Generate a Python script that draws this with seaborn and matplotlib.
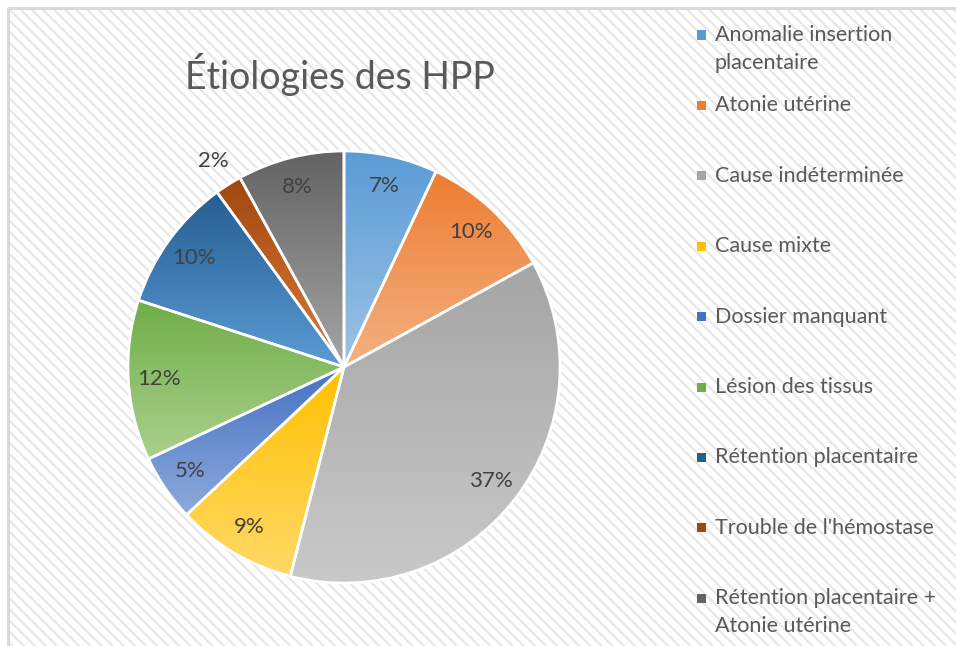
import numpy as np
import matplotlib.pyplot as plt
import seaborn as sns
from matplotlib.colors import LinearSegmentedColormap
from matplotlib.patches import Rectangle

# Données
categories = ["Anomalie insertion\nplacentaire", "Atonie utérine", "Cause indéterminée",
              "Cause mixte", "Dossier manquant", "Lésion des tissus",
              "Rétention placentaire", "Trouble de l'hémostase",
              "Rétention placentaire +\nAtonie utérine"]
values = [7, 10, 37, 9, 5, 12, 10, 2, 8]

# Couleurs (dégradé haut -> bas)
top_colors = ["#5B9BD5", "#ED7D31", "#A5A5A5", "#FFC000", "#4472C4",
              "#70AD47", "#255E91", "#9E480E", "#636363"]
bottom_colors = ["#9DC3E6", "#F4B183", "#C9C9C9", "#FFD966", "#8FAADC",
                 "#A9D18E", "#5B9BD5", "#E07B39", "#A5A5A5"]

sns.set_theme(style="white")
plt.rcParams['font.family'] = ['Lato', 'DejaVu Sans']
plt.rcParams['hatch.linewidth'] = 1.5

W, H = 956, 646
fig = plt.figure(figsize=(W / 100, H / 100), dpi=100)
fig.patch.set_facecolor('white')

# Fond hachuré + bordure (haut et gauche seulement visibles)
fig.patches.append(Rectangle((8 / W, -1), 2, 2 - 8 / H, transform=fig.transFigure,
                             facecolor='white', edgecolor='#E6E6E6', linewidth=0,
                             hatch='\\\\\\', zorder=0))
fig.lines.append(plt.Line2D([8 / W, 8 / W, 1.0], [0.0, 1 - 8 / H, 1 - 8 / H],
                            transform=fig.transFigure, color='#D9D9D9',
                            linewidth=2.2, zorder=1))

# Camembert
cx, cy, r = 344, 367, 216
ax = fig.add_axes([(cx - r) / W, (H - cy - r) / H, 2 * r / W, 2 * r / H])
ax.set_facecolor('none')
ax.set_zorder(5)

wedges, texts, autotexts = ax.pie(values, startangle=90, counterclock=False,
                                  autopct='%1.0f%%', pctdistance=0.86,
                                  wedgeprops=dict(edgecolor='white', linewidth=1.9),
                                  textprops=dict(color='#404040', fontsize=16))

grad = np.linspace(0, 1, 256).reshape(-1, 1)
for w, c0, c1 in zip(wedges, top_colors, bottom_colors):
    ext = w.get_path().get_extents()
    cmap = LinearSegmentedColormap.from_list('g', [c0, c1])
    im = ax.imshow(grad, cmap=cmap, extent=[ext.x0, ext.x1, ext.y0, ext.y1],
                   aspect='auto', zorder=1, interpolation='bilinear')
    im.set_clip_path(w)
    w.set_facecolor('none')
    w.set_zorder(2)

for w, t, v in zip(wedges, autotexts, values):
    t.set_zorder(3)
    if v < 3:
        ang = np.deg2rad((w.theta1 + w.theta2) / 2)
        t.set_position((1.13 * np.cos(ang), 1.13 * np.sin(ang)))

ax.set_xlim(-1, 1)
ax.set_ylim(-1, 1)
ax.axis('off')

# Titre
fig.text(340 / W, 1 - 75 / H, "Étiologies des HPP", ha='center', va='center',
         fontsize=27, color='#595959', zorder=6)

# Légende
for i, (lab, c0, c1) in enumerate(zip(categories, top_colors, bottom_colors)):
    y = 35 + i * 70.4
    fig.patches.append(Rectangle((697 / W, 1 - (y + 4.5) / H), 9 / W, 9 / H,
                                 transform=fig.transFigure, facecolor=c0,
                                 edgecolor='none', zorder=3))
    for k, line in enumerate(lab.split('\n')):
        fig.text(715 / W, 1 - (y + k * 28) / H, line, ha='left', va='center',
                 fontsize=15.5, color='#595959', zorder=6)

fig.savefig('out.png', dpi=100)
